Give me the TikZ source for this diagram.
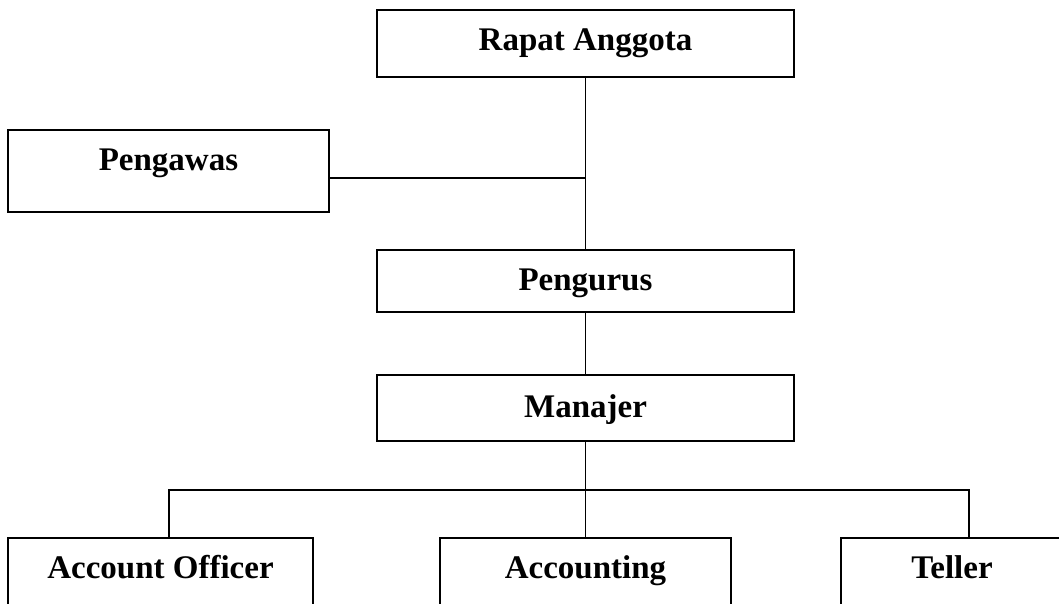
\documentclass[tikz,border=0pt]{standalone}
\usepackage{fontspec}
\setmainfont{Liberation Serif}
\begin{document}
\begin{tikzpicture}[x=1pt,y=-1pt,
  box/.style={draw=black, line width=1.4pt, rectangle, anchor=north west, inner sep=0pt, outer sep=0pt,
    font=\fontsize{33}{38}\selectfont\bfseries, align=center},
  conn/.style={draw=black, line width=1.4pt}]
\useasboundingbox (0,0) rectangle (1059,603);
\clip (0,0) rectangle (1059,603);
\node[box, minimum width=417pt, text height=40pt, text depth=27pt] (rapat) at (377,10) {Rapat Anggota};
\node[box, minimum width=321pt, text height=40pt, text depth=42pt] (pengawas) at (8,130) {Pengawas};
\node[box, minimum width=417pt, text height=40pt, text depth=22pt] (pengurus) at (377,250) {Pengurus};
\node[box, minimum width=417pt, text height=42pt, text depth=24pt] (manajer) at (377,375) {Manajer};
\node[box, minimum width=305pt, text height=40pt, text depth=80pt] (ao) at (8,538) {Account Officer};
\node[box, minimum width=291pt, text height=40pt, text depth=80pt] (acc) at (440,538) {Accounting};
\node[box, minimum width=222pt, text height=40pt, text depth=80pt] (teller) at (841,538) {Teller};
\coordinate (j) at (585.5,178);
\coordinate (bl) at (169,490);
\coordinate (br) at (969,490);
\draw[conn] (rapat.south) -- (pengurus.north);
\draw[conn] (j -| pengawas.east) -- (j);
\draw[conn] (pengurus.south) -- (manajer.north);
\draw[conn] (manajer.south) -- (acc.north);
\draw[conn] (bl |- ao.north) -- (bl) -- (br) -- (br |- teller.north);
\end{tikzpicture}
\end{document}
